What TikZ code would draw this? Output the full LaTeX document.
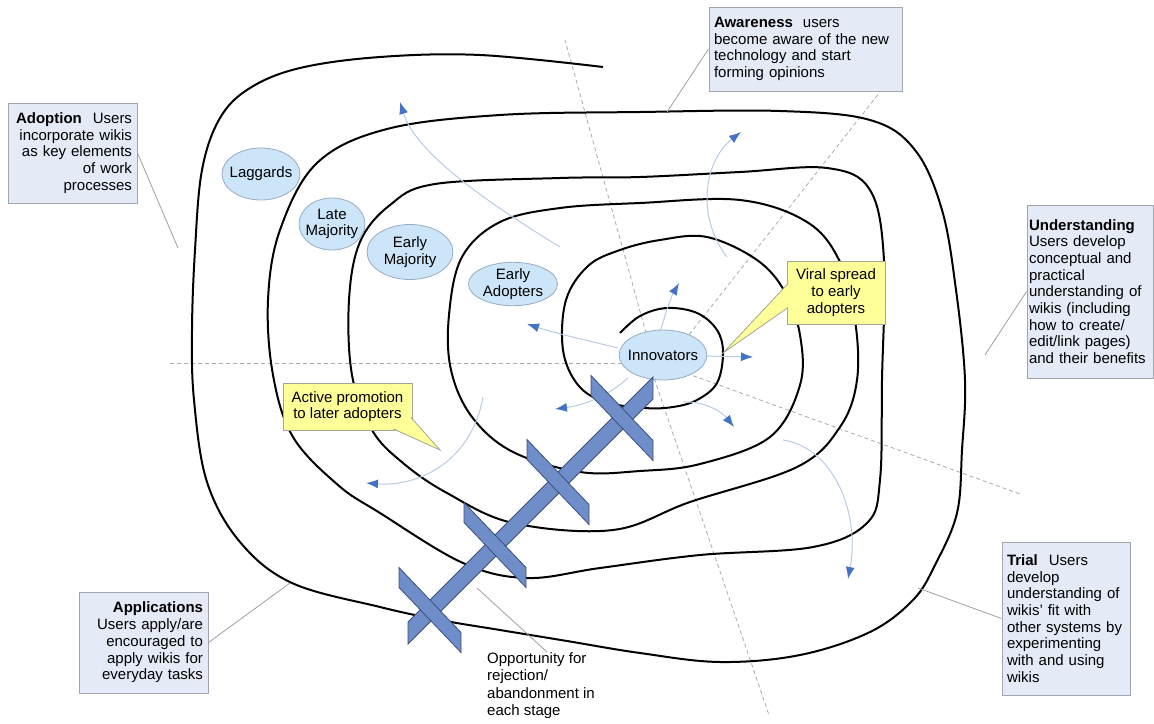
\documentclass[tikz,border=0pt]{standalone}
\usepackage{fontspec}
\setmainfont{Liberation Sans}
\usetikzlibrary{shapes,arrows,arrows.meta}

\definecolor{stagefill}{RGB}{228,235,247}
\definecolor{stageline}{RGB}{160,166,176}
\definecolor{groupfill}{RGB}{205,229,248}
\definecolor{groupline}{RGB}{150,172,194}
\definecolor{notefill}{RGB}{255,255,153}
\definecolor{noteline}{RGB}{165,165,150}
\definecolor{crossfill}{RGB}{111,142,201}
\definecolor{crossline}{RGB}{58,78,122}
\definecolor{flowline}{RGB}{185,202,226}
\definecolor{flowtip}{RGB}{68,114,196}
\definecolor{radialline}{RGB}{170,170,170}

\begin{document}
\begin{tikzpicture}[x=1pt, y=-1pt, font=\fontsize{15}{16.7}\selectfont]
     %define block styles
     \tikzset{
          stagebox/.style={rectangle, draw=stageline, fill=stagefill, line width=1pt, inner xsep=5pt, inner ysep=4pt},
          adoptergroup/.style={ellipse, draw=groupline, fill=groupfill, line width=0.8pt, inner xsep=-4pt, inner ysep=0pt, align=center},
          notebox/.style={rectangle, draw=noteline, fill=notefill, line width=0.8pt, align=center},
          notetail/.style={draw=noteline, fill=notefill, line width=0.8pt},
          spiral/.style={line width=2pt, black, line join=round},
          radial/.style={radialline, line width=0.8pt, dash pattern=on 4pt off 3pt},
          pointer/.style={gray!75, line width=0.8pt},
          flow/.style={flowline, line width=1pt, -{Latex[length=12pt, width=9pt, color=flowtip]}},
          crossbar/.style={draw=crossline, fill=crossfill, line width=0.8pt},}
     \useasboundingbox (0,0) rectangle (1154,723);

     %stage dividers
     \draw[radial] (650,363) -- (170,363);
     \draw[radial] (648,340) -- (565,40);
     \draw[radial] (685,340) -- (880,92);
     \draw[radial] (680,371) -- (1020,494);
     \draw[radial] (652,372) -- (769,715);

     %the spiral, from the centre outwards
     \draw[spiral] plot[smooth, tension=0.6] coordinates {
          (620,333) (640,316) (667,308) (697,313) (717,330) (723,353) (717,383)
          (697,400) (673,407) (645,408) (605,402) (578,385) (563,350) (566,300)
          (588,266) (620,250) (660,240) (707,237) (757,260) (785,292) (800,335)
          (800,385) (770,437) (700,464) (640,471) (580,472) (513,452) (472,417)
          (451,370) (449,315) (462,257) (500,222) (560,208) (640,203) (740,200)
          (807,222) (840,262) (855,320) (857,380) (840,427) (797,467) (690,502)
          (613,530) (513,523) (447,493) (403,463) (372,430) (352,375) (349,300)
          (360,242) (390,205) (435,184) (560,178) (640,177) (740,172) (827,168)
          (870,190) (884,260) (882,380) (880,480) (867,523) (813,547) (700,555)
          (600,568) (527,578) (463,563) (380,513) (338,485) (293,437) (273,375)
          (268,300) (280,230) (317,163) (387,129) (500,115) (640,112) (780,111)
          (870,120) (915,150) (942,210) (956,290) (965,380) (962,450) (957,513)
          (935,565) (913,600) (870,632) (800,655) (720,662) (640,653) (567,641)
          (500,630) (440,620) (380,607) (292,583) (240,542) (207,482) (194,400)
          (192,330) (195,250) (202,170) (220,118) (250,88) (300,68) (380,57)
          (480,55) (603,67)};

     %spread of use
     \draw[flow] (660,332) .. controls (666,312) and (671,297) .. (679,283);
     \draw[flow] (700,356) -- (753,357);
     \draw[flow] (683,402) .. controls (705,401) and (722,412) .. (734,427);
     \draw[flow] (628,378) .. controls (608,396) and (585,405) .. (555,409);
     \draw[flow] (618,348) .. controls (585,340) and (555,333) .. (527,324);
     \draw[flow] (727,257) .. controls (695,215) and (705,160) .. (741,132);
     \draw[flow] (560,247) .. controls (475,195) and (415,150) .. (400,102);
     \draw[flow] (783,440) .. controls (835,448) and (860,515) .. (848,579);
     \draw[flow] (483,397) .. controls (472,460) and (420,487) .. (366,483);

     %define nodes
     \node[adoptergroup, minimum width=78pt, minimum height=52pt](laggards) at (261,174){Laggards};
     \node[adoptergroup, minimum width=66pt, minimum height=52pt](latemajority) at (332,224){Late\\Majority};
     \node[adoptergroup, minimum width=86pt, minimum height=55pt](earlymajority) at (410,252){Early\\Majority};
     \node[adoptergroup, minimum width=89pt, minimum height=43pt](earlyadopters) at (513,284){Early\\Adopters};
     \node[adoptergroup, minimum width=86pt, minimum height=50pt](innovators) at (663,355){Innovators};

     %rejection in each stage
     \draw[crossbar] (408,622) -- (653,377) -- (653,399) -- (408,644) -- cycle;
     \foreach \cx/\cy in {622/418, 558/482, 495/545, 430/610}
          \draw[crossbar] ({\cx-31},{\cy-42.5}) -- ({\cx+31},{\cy+22.5}) -- ({\cx+31},{\cy+42.5}) -- ({\cx-31},{\cy-22.5}) -- cycle;

     %callouts
     \node[notebox, minimum width=98pt, minimum height=63pt](viral) at (836,292.5){Viral spread\\to early\\adopters};
     \coordinate (viraltip) at (723,353);
     \draw[notetail] ([xshift=1.5pt, yshift=9pt]viral.west) -- (viraltip) -- ([xshift=1.5pt, yshift=-15pt]viral.west);
     \node[notebox, minimum width=129pt, minimum height=47pt](promotion) at (347.5,406.5){Active promotion\\to later adopters};
     \coordinate (promotiontip) at (440,450);
     \draw[notetail] ([xshift=-19pt, yshift=1.5pt]promotion.south east) -- (promotiontip) -- ([xshift=-1.5pt, yshift=13pt]promotion.south east);

     %stages
     \node[stagebox, text width=119pt, minimum height=100pt, align=right](adoption) at (72.5,153){\textbf{Adoption}\hspace{11pt}Users\\incorporate wikis\\as key elements\\of work\\processes};
     \node[stagebox, text width=183pt, minimum height=84pt, align=left](awareness) at (805.5,49){\textbf{Awareness}\hspace{10pt}users\\become aware of the new\\technology and start\\forming opinions};
     \node[stagebox, inner xsep=2pt, text width=122pt, minimum height=173pt, align=left](understanding) at (1090,291.5){\textbf{Understanding}\\Users develop\\conceptual and\\practical\\understanding of\\wikis (including\\how to create/\\edit/link pages)\\and their benefits};
     \node[stagebox, text width=118pt, minimum height=153pt, align=left](trial) at (1066,618.5){\textbf{Trial}\hspace{11pt}Users\\develop\\understanding of\\wikis' fit with\\other systems by\\experimenting\\with and using\\wikis};
     \node[stagebox, text width=119pt, minimum height=101pt, align=right](applications) at (143.5,642.5){\textbf{Applications}\\Users apply/are\\encouraged to\\apply wikis for\\everyday tasks};
     \node[anchor=north west, inner sep=0pt, align=left, font=\fontsize{15}{17.5}\selectfont](opportunity) at (487,652){Opportunity for\\rejection/\\abandonment in\\each stage};

     %pointers
     \coordinate (adoptionend) at (178,248);
     \coordinate (awarenessend) at (667,112);
     \coordinate (understandingend) at (985,355);
     \coordinate (trialend) at (918,588);
     \coordinate (applicationsend) at (290,583);
     \coordinate (opportunityend) at (477,588);
     \draw[pointer] (adoption.east) -- (adoptionend);
     \draw[pointer] (awareness.west) -- (awarenessend);
     \draw[pointer] (understanding.west) -- (understandingend);
     \draw[pointer] (trial.west) -- (trialend);
     \draw[pointer] (applications.east) -- (applicationsend);
     \draw[pointer] ([xshift=6pt]opportunity.north) -- (opportunityend);
\end{tikzpicture}
\end{document}
